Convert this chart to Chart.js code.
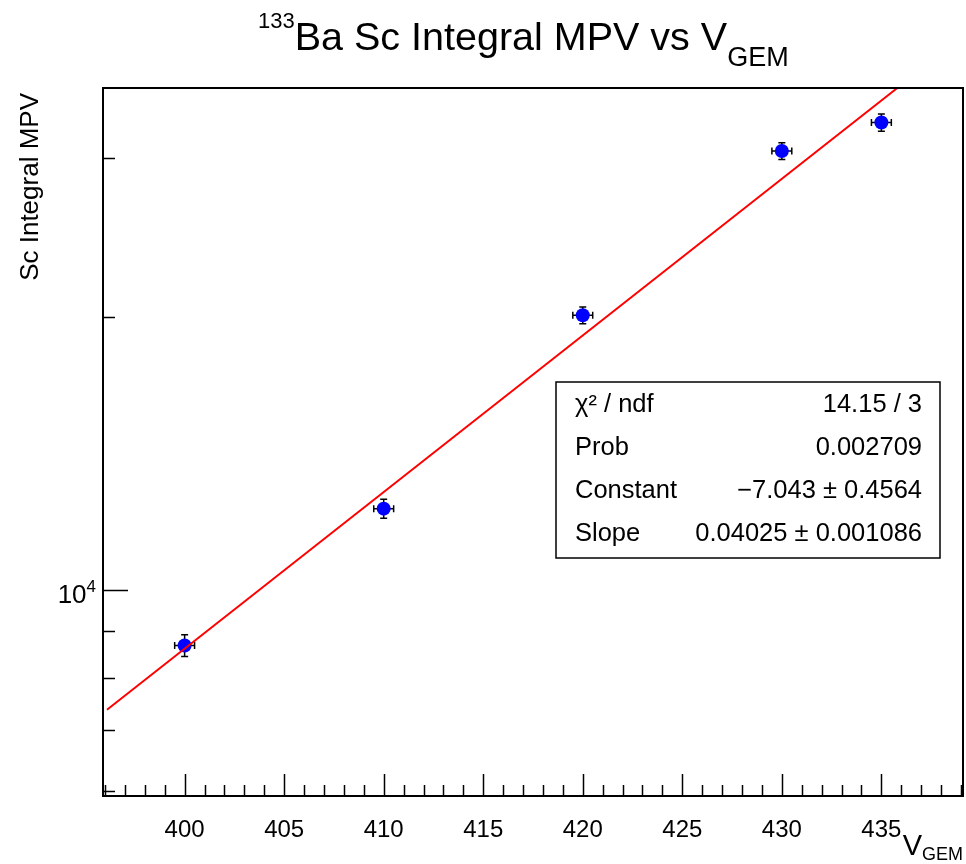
<!DOCTYPE html>
<html>
<head>
<meta charset="utf-8">
<script src="https://cdn.jsdelivr.net/npm/chart.js@4.4.1/dist/chart.umd.min.js"></script>
<style>
  body { margin: 0; background: #fff; }
  #wrap { width: 966px; height: 864px; }
</style>
</head>
<body>
<div id="wrap"><canvas id="mpvChart" width="966" height="864"></canvas></div>
<script>
// measured points (V_GEM vs Sc integral MPV)
const vgem    = [400, 410, 420, 430, 435];
const vgemErr = [0.5, 0.5, 0.5, 0.5, 0.5];
const mpv     = [8680, 12290, 20090, 30500, 32790];
const mpvErr  = [240, 300, 430, 650, 710];

// fit line (expo), end points
const fitX = [396.1, 435.8];
const fitY = [7370, 35800];

// axis ticks
const xMajorTicks = [400, 405, 410, 415, 420, 425, 430, 435];
const yMajorTicks = [10000];
const yMinorTicks = [6000, 7000, 8000, 9000, 20000, 30000];

// stats box
const statLabels = ['\u03C7\u00B2 / ndf', 'Prob', 'Constant', 'Slope'];
const statValues = ['14.15 / 3', '0.002709', '\u22127.043 \u00B1 0.4564', '0.04025 \u00B1 0.001086'];

const FONT = '"Liberation Sans", Arial, Helvetica, sans-serif';

function font(size) { return size + 'px ' + FONT; }

// draw text made of pieces with different sizes / vertical offsets
function drawParts(ctx, parts, x, y) {
    let cx = x;
    parts.forEach(p => {
        ctx.font = font(p.size);
        ctx.fillText(p.text, cx, y + (p.dy || 0));
        cx += ctx.measureText(p.text).width + (p.gap || 0);
    });
    return cx;
}

function partsWidth(ctx, parts) {
    let w = 0;
    parts.forEach(p => { ctx.font = font(p.size); w += ctx.measureText(p.text).width + (p.gap || 0); });
    return w;
}

const rootStyle = {
    id: 'rootStyle',
    beforeDatasetDraw(chart, args) {
        if (args.index !== 1) return;
        const ctx = chart.ctx;
        const xs = chart.scales.x, ys = chart.scales.y;
        ctx.save();
        ctx.strokeStyle = '#000';
        ctx.lineWidth = 1.5;
        const cap = 3.5;
        for (let i = 0; i < vgem.length; i++) {
            const px = xs.getPixelForValue(vgem[i]);
            const py = ys.getPixelForValue(mpv[i]);
            const x1 = xs.getPixelForValue(vgem[i] - vgemErr[i]);
            const x2 = xs.getPixelForValue(vgem[i] + vgemErr[i]);
            const y1 = ys.getPixelForValue(mpv[i] + mpvErr[i]);
            const y2 = ys.getPixelForValue(mpv[i] - mpvErr[i]);
            ctx.beginPath();
            ctx.moveTo(x1, py); ctx.lineTo(x2, py);
            ctx.moveTo(px, y1); ctx.lineTo(px, y2);
            // end caps
            ctx.moveTo(x1, py - cap); ctx.lineTo(x1, py + cap);
            ctx.moveTo(x2, py - cap); ctx.lineTo(x2, py + cap);
            ctx.moveTo(px - cap, y1); ctx.lineTo(px + cap, y1);
            ctx.moveTo(px - cap, y2); ctx.lineTo(px + cap, y2);
            ctx.stroke();
        }
        ctx.restore();
    },
    afterDraw(chart) {
        const ctx = chart.ctx;
        const a = chart.chartArea;
        const xs = chart.scales.x, ys = chart.scales.y;
        ctx.save();

        // frame
        ctx.strokeStyle = '#000';
        ctx.lineWidth = 2;
        ctx.strokeRect(a.left, a.top, a.right - a.left, a.bottom - a.top);

        // x ticks (inside, major every 5, minor every 1)
        ctx.lineWidth = 1.5;
        ctx.beginPath();
        for (let v = Math.ceil(xs.min); v <= xs.max; v++) {
            const px = Math.round(xs.getPixelForValue(v)) + 0.5;
            const len = (v % 5 === 0) ? 22 : 11;
            ctx.moveTo(px, a.bottom);
            ctx.lineTo(px, a.bottom - len);
        }
        // y ticks
        yMajorTicks.forEach(v => {
            const py = Math.round(ys.getPixelForValue(v)) + 0.5;
            ctx.moveTo(a.left, py); ctx.lineTo(a.left + 25, py);
        });
        yMinorTicks.forEach(v => {
            const py = Math.round(ys.getPixelForValue(v)) + 0.5;
            ctx.moveTo(a.left, py); ctx.lineTo(a.left + 12, py);
        });
        ctx.stroke();

        ctx.fillStyle = '#000';
        ctx.textBaseline = 'alphabetic';
        ctx.textAlign = 'left';

        // y label 10^4
        yMajorTicks.forEach(v => {
            const py = ys.getPixelForValue(v);
            const parts = [{ text: '10', size: 26 }, { text: String(Math.round(Math.log10(v))), size: 17, dy: -11 }];
            drawParts(ctx, parts, 96 - partsWidth(ctx, parts), py + 13);
        });

        // title
        drawParts(ctx, [
            { text: '133', size: 22, dy: -22 },
            { text: 'Ba Sc Integral MPV vs V', size: 39.5 },
            { text: 'GEM', size: 27, dy: 16 }
        ], 258, 50);

        // x axis title, right aligned at frame edge
        const xt = [{ text: 'V', size: 29 }, { text: 'GEM', size: 18, dy: 5 }];
        drawParts(ctx, xt, a.right - partsWidth(ctx, xt), 855);

        // y axis title, rotated, aligned to top
        ctx.save();
        ctx.translate(38, a.top + 5);
        ctx.rotate(-Math.PI / 2);
        ctx.textAlign = 'right';
        ctx.font = font(26);
        ctx.fillText('Sc Integral MPV', 0, 0);
        ctx.restore();

        // stats box
        const bx = 556, by = 382, bw = 384, bh = 176;
        ctx.fillStyle = '#fff';
        ctx.fillRect(bx, by, bw, bh);
        ctx.strokeStyle = '#000';
        ctx.lineWidth = 1.5;
        ctx.strokeRect(bx, by, bw, bh);
        ctx.fillStyle = '#000';
        ctx.font = font(25.5);
        statLabels.forEach((lab, i) => {
            const yy = 412 + i * 43;
            ctx.textAlign = 'left';
            ctx.fillText(lab, bx + 19, yy);
            ctx.textAlign = 'right';
            ctx.fillText(statValues[i], bx + bw - 18, yy);
        });
        ctx.restore();
    }
};

const ctx = document.getElementById('mpvChart').getContext('2d');
new Chart(ctx, {
    type: 'scatter',
    data: {
        datasets: [
            {
                label: 'fit',
                data: fitX.map((x, i) => ({ x: x, y: fitY[i] })),
                showLine: true,
                borderColor: '#ff0000',
                borderWidth: 2,
                pointRadius: 0,
                order: 0
            },
            {
                label: 'data',
                data: vgem.map((x, i) => ({ x: x, y: mpv[i] })),
                backgroundColor: '#0000ff',
                borderWidth: 0,
                pointRadius: 7,
                order: 1
            }
        ]
    },
    options: {
        responsive: false,
        animation: false,
        devicePixelRatio: 1,
        layout: { autoPadding: false, padding: { left: 0, top: 88, right: 3, bottom: 0 } },
        plugins: {
            legend: { display: false },
            tooltip: { enabled: false },
            title: { display: false }
        },
        scales: {
            x: {
                type: 'linear',
                min: 395.9,
                max: 439.1,
                afterBuildTicks: s => { s.ticks = xMajorTicks.map(v => ({ value: v })); },
                afterFit: s => { s.height = 68; s.paddingLeft = 0; s.paddingRight = 0; },
                grid: { display: true, drawOnChartArea: false, drawTicks: false },
                border: { display: false },
                ticks: {
                    color: '#000',
                    font: { family: FONT, size: 24 },
                    padding: 20,
                    maxRotation: 0,
                    autoSkip: false
                }
            },
            y: {
                type: 'logarithmic',
                min: 5920,
                max: 35800,
                afterBuildTicks: s => { s.ticks = yMajorTicks.concat(yMinorTicks).map(v => ({ value: v })); },
                afterFit: s => { s.width = 103; s.paddingTop = 0; s.paddingBottom = 0; },
                grid: { display: true, drawOnChartArea: false, drawTicks: false },
                border: { display: false },
                ticks: { callback: () => '' }
            }
        }
    },
    plugins: [rootStyle]
});
</script>
</body>
</html>
